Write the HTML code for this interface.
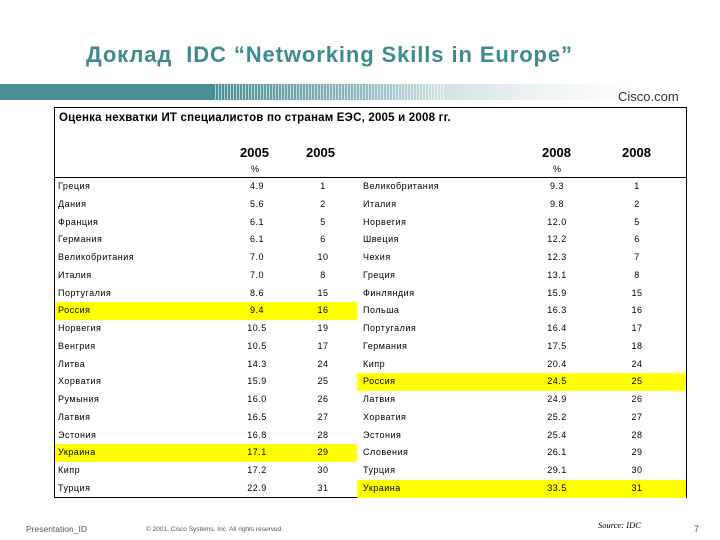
<!DOCTYPE html>
<html><head><meta charset="utf-8">
<style>
body{margin:0;width:720px;height:540px;background:#fff;position:relative;overflow:hidden;font-family:"Liberation Sans",Arial,sans-serif;}
.abs{position:absolute;white-space:nowrap;}
.c{font-size:9px;color:#000;letter-spacing:0.5px;}
</style></head><body>
<div class="abs" style="left:86px;top:42px;font-size:22px;font-weight:bold;color:#3d8b90;letter-spacing:0.9px;">Доклад&nbsp; IDC “Networking Skills in Europe”</div>
<div class="abs" style="left:0;top:84px;width:720px;height:16px;background:linear-gradient(90deg,#4a8f96 0%,#4a8f96 30%,#8fb9bd 50%,#d4e3e5 62%,#eef3f4 75%,#fff 88%,#fff 100%);"></div>
<div class="abs" style="left:215px;top:84px;width:230px;height:16px;background:repeating-linear-gradient(90deg,rgba(255,255,255,0.6) 0 1px,transparent 1px 3px);"></div>
<div class="abs" style="left:618px;top:89px;font-size:13px;color:#333;">Cisco.com</div>
<div class="abs" style="left:54px;top:107px;width:631px;height:389px;border:1px solid #000;"></div>
<div class="abs" style="left:59px;top:112px;font-size:11.5px;font-weight:bold;letter-spacing:0.2px;">Оценка нехватки ИТ специалистов по странам ЕЭС, 2005 и 2008 гг.</div>
<div class="abs" style="left:240px;top:145px;font-size:13px;font-weight:bold;">2005</div>
<div class="abs" style="left:306px;top:145px;font-size:13px;font-weight:bold;">2005</div>
<div class="abs" style="left:542px;top:145px;font-size:13px;font-weight:bold;">2008</div>
<div class="abs" style="left:622px;top:145px;font-size:13px;font-weight:bold;">2008</div>
<div class="abs c" style="left:251px;top:164px;">%</div>
<div class="abs c" style="left:553px;top:164px;">%</div>
<div class="abs" style="left:55px;top:177px;width:631px;height:1px;background:#000;"></div>
<div id="rows"></div>
<div class="abs" style="left:26px;top:524px;font-size:8.5px;color:#555;">Presentation_ID</div>
<div class="abs" style="left:146px;top:526px;font-size:6.5px;color:#555;">© 2001, Cisco Systems, Inc. All rights reserved.</div>
<div class="abs" style="left:598px;top:520px;font-size:8.5px;font-style:italic;font-family:'Liberation Serif',serif;">Source: IDC</div>
<div class="abs" style="left:694px;top:524px;font-size:9px;color:#555;">7</div>
<script>
const left2005=["Греция","Дания","Франция","Германия","Великобритания","Италия","Португалия","Россия","Норвегия","Венгрия","Литва","Хорватия","Румыния","Латвия","Эстония","Украина","Кипр","Турция"];
const pct2005=["4.9","5.6","6.1","6.1","7.0","7.0","8.6","9.4","10.5","10.5","14.3","15.9","16.0","16.5","16.8","17.1","17.2","22.9"];
const rank2005=["1","2","5","6","10","8","15","16","19","17","24","25","26","27","28","29","30","31"];
const right2008=["Великобритания","Италия","Норвегия","Швеция","Чехия","Греция","Финляндия","Польша","Португалия","Германия","Кипр","Россия","Латвия","Хорватия","Эстония","Словения","Турция","Украина"];
const pct2008=["9.3","9.8","12.0","12.2","12.3","13.1","15.9","16.3","16.4","17.5","20.4","24.5","24.9","25.2","25.4","26.1","29.1","33.5"];
const rank2008=["1","2","5","6","7","8","15","16","17","18","24","25","26","27","28","29","30","31"];
const hlLeft=[7,15], hlRight=[11,17];
const root=document.getElementById('rows');
const y0=187, dy=17.76;
function mk(txt,x,y,align,w){const d=document.createElement('div');d.className='abs c';d.textContent=txt;d.style.top=(y-6)+'px';
 if(align==='c'){d.style.left=(x-w/2)+'px';d.style.width=w+'px';d.style.textAlign='center';}else d.style.left=x+'px';
 
 
 root.appendChild(d);}
function hl(x,w,y){const d=document.createElement('div');d.className='abs';d.style.left=x+'px';d.style.width=w+'px';d.style.top=(y-9)+'px';d.style.height='18px';d.style.background='#ffff00';
 
 
 root.appendChild(d);}
for(let i=0;i<left2005.length;i++){const y=y0+i*dy;
 if(hlLeft.includes(i))hl(55,302,y);
 if(hlRight.includes(i))hl(357,329,y);}
for(let i=0;i<left2005.length;i++){const y=y0+i*dy;
 mk(left2005[i],58,y);mk(pct2005[i],257,y,'c',40);mk(rank2005[i],323,y,'c',30);
 mk(right2008[i],363,y);mk(pct2008[i],557,y,'c',40);mk(rank2008[i],637,y,'c',30);}
</script>
</body></html>
